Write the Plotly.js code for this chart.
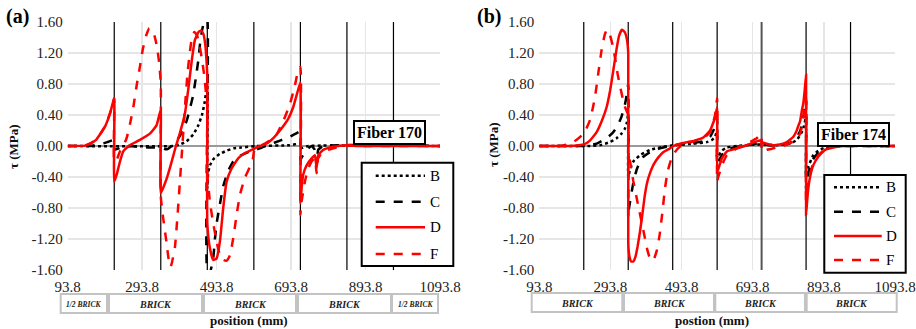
<!DOCTYPE html>
<html><head><meta charset="utf-8">
<script src="https://cdn.plot.ly/plotly-3.0.1.min.js"></script>
<style>html,body{margin:0;padding:0;background:#fff}#chart{width:916px;height:329px}</style>
</head><body><div id="chart"></div>
<script>
// ---------- DATA ----------
const xTicks = [93.8, 293.8, 493.8, 693.8, 893.8, 1093.8];
const xTickText = ["93.8", "293.8", "493.8", "693.8", "893.8", "1093.8"];
const yTicks = [-1.6, -1.2, -0.8, -0.4, 0, 0.4, 0.8, 1.2, 1.6];
const joints = [218.8, 343.8, 468.8, 593.8, 718.8, 843.8, 968.8];
const seriesNames = ["B", "C", "D", "F"];

// Panel (a) Fiber 170 : [position mm, tau MPa]
const a_B = [[93.8,0],[380,0],[395,0.02],[413,0.06],[431,0.15],[445,0.27],[455,0.41],[462,0.57],[466,0.72],[468.8,0.85],[468.8,-0.55],[471,-0.35],[476,-0.25],[485,-0.17],[503,-0.1],[521,-0.06],[540,-0.03],[560,-0.02],[600,0],[690,0.01],[718.8,0.03],[718.8,-0.03],[740,0],[1093.8,0]];
const a_C = [[93.8,0],[153.7,0],[180,0.02],[200,0.05],[218.8,0.08],[218.8,-0.05],[226,-0.04],[240,-0.01],[260,0],[290,-0.01],[320,-0.02],[343.8,-0.02],[355,-0.04],[362,-0.04],[370,-0.01],[377,0.03],[391,0.1],[403,0.2],[413,0.32],[422,0.48],[431,0.66],[438,0.88],[445,1.12],[450,1.35],[455,1.5],[460,1.6],[465,1.63],[468.8,1.63],[468.8,-1.63],[475.8,-1.63],[484.7,-1.45],[489.2,-1.2],[493.8,-1.0],[502.7,-0.75],[511.5,-0.52],[524.9,-0.32],[538.4,-0.2],[556,-0.13],[583,-0.07],[610,-0.03],[637,0.02],[664,0.07],[691,0.12],[710,0.17],[718.8,0.19],[718.8,-0.18],[722,-0.15],[731,-0.08],[740,-0.03],[749,0],[757.7,-0.05],[762.3,-0.25],[766.6,-0.05],[780,0],[1093.8,0]];
const a_D = [[93.8,0],[140,0.005],[153.7,0.03],[170,0.08],[180.5,0.15],[195,0.26],[207.4,0.42],[213,0.52],[218.8,0.62],[218.8,-0.46],[225.3,-0.37],[234.2,-0.2],[243.1,-0.07],[261,0.01],[287.9,0.08],[314.7,0.16],[332.7,0.27],[339.7,0.4],[343.8,0.46],[343.8,-0.61],[359.6,-0.42],[372,-0.22],[384.5,0],[395.3,0.17],[408.7,0.42],[418.1,0.75],[427.5,1.12],[435.6,1.37],[445,1.47],[452,1.49],[458,1.45],[463,1.32],[466,1.15],[468.8,0.9],[468.8,-1.0],[475.8,-1.32],[484.7,-1.47],[493.8,-1.45],[502.7,-1.23],[511.5,-0.8],[520.6,-0.46],[534,-0.29],[551.8,-0.16],[569.8,-0.09],[587.8,-0.05],[609.8,0],[623.5,0.02],[641.5,0.08],[663.8,0.2],[686,0.35],[699.4,0.5],[710,0.68],[718.8,0.82],[718.8,-0.74],[722,-0.55],[726.3,-0.37],[735.5,-0.25],[749,-0.16],[757.7,-0.12],[762.3,-0.28],[766.6,-0.12],[780,-0.05],[806.8,-0.01],[842.8,0.01],[878.5,0],[1093.8,0]];
const a_F = [[93.8,0],[140,0.005],[153.7,0.03],[170,0.08],[180.5,0.15],[195,0.26],[207.4,0.42],[213,0.52],[218.8,0.62],[218.8,-0.2],[225.3,-0.18],[234,-0.07],[243.1,0],[252,0.1],[261,0.28],[270,0.5],[279,0.78],[288,1.03],[296,1.26],[305,1.43],[313,1.52],[320,1.5],[327,1.42],[334,1.27],[340,1.05],[343.8,0.8],[343.8,-0.65],[350,-0.92],[359.6,-1.26],[366,-1.5],[370.3,-1.56],[374,-1.5],[381.9,-1.3],[388,-0.95],[395.3,-0.45],[401.5,-0.02],[408.7,0.5],[415,0.9],[421,1.18],[427,1.38],[434,1.47],[441,1.43],[448,1.3],[454,1.13],[460,0.93],[465,0.7],[468.8,0.55],[468.8,-0.35],[475.8,-0.72],[484.7,-1.0],[493.8,-1.23],[502.7,-1.41],[511.5,-1.47],[520.6,-1.48],[529.5,-1.41],[538.4,-1.19],[547.5,-0.89],[556.4,-0.63],[569.8,-0.41],[583.2,-0.27],[591,-0.17],[593.8,-0.08],[596.4,-0.05],[609.8,0],[623.5,0.03],[636.9,0.07],[654.9,0.15],[672.6,0.32],[690.6,0.54],[704,0.78],[712.9,0.98],[718.8,1.02],[718.8,-0.89],[722,-0.72],[730.9,-0.46],[739.8,-0.29],[748.9,-0.2],[757.7,-0.16],[762.3,-0.35],[766.6,-0.16],[780,-0.07],[806.8,-0.03],[842.8,0.01],[878.5,0],[1093.8,0]];

// Panel (b) Fiber 174
const b_B = [[93.8,0],[230,0],[264,0.01],[292,0.05],[311,0.1],[325,0.16],[334,0.22],[340,0.3],[343.8,0.42],[343.8,-0.4],[349,-0.3],[358,-0.2],[377,-0.12],[405,-0.05],[442,-0.01],[470,0.01],[527,0.03],[565,0.05],[580,0.08],[588,0.12],[593.8,0.2],[593.8,-0.15],[607,-0.06],[621,-0.02],[649,0],[705,0.02],[718.8,0.02],[760,0.01],[799,0.03],[818,0.08],[832,0.18],[838,0.26],[843.8,0.38],[843.8,-0.38],[850,-0.27],[864,-0.12],[878,-0.06],[897,-0.02],[920,0],[1093.8,0]];
const b_C = [[93.8,0],[200,0],[236,0.01],[255,0.03],[283,0.1],[300,0.17],[314,0.26],[325,0.38],[333,0.5],[338,0.62],[343.8,0.8],[343.8,-0.92],[346,-0.8],[349,-0.72],[354,-0.58],[360,-0.43],[368,-0.3],[377,-0.2],[386,-0.14],[405,-0.08],[433,-0.03],[461,0],[490,0.02],[527,0.04],[555,0.06],[574,0.12],[588,0.25],[593.8,0.36],[593.8,-0.25],[600,-0.18],[607,-0.12],[621,-0.05],[649,-0.01],[677,0.01],[705,0.03],[718.8,0.03],[740,0.01],[770,0.01],[798.8,0.04],[817.6,0.12],[827,0.19],[832,0.28],[838,0.42],[843.8,0.62],[843.8,-0.57],[847,-0.45],[850,-0.37],[855,-0.27],[864,-0.17],[878,-0.09],[897,-0.04],[920,-0.01],[949,0],[1093.8,0]];
const b_D = [[93.8,0],[180,0],[205,0.01],[219,0.02],[236,0.07],[255,0.18],[270,0.33],[283,0.5],[293,0.72],[302,0.98],[311,1.25],[318,1.42],[326,1.5],[334,1.47],[340,1.38],[343.8,1.2],[343.8,-1.25],[347,-1.42],[352,-1.49],[358,-1.49],[364,-1.43],[370,-1.3],[377,-1.1],[383,-0.9],[390,-0.65],[397,-0.47],[405,-0.35],[415,-0.24],[428,-0.15],[442,-0.08],[458,-0.04],[470.6,0],[490,0.03],[510,0.05],[530,0.07],[555,0.11],[574,0.2],[588,0.37],[593.8,0.5],[593.8,-0.33],[597,-0.3],[607,-0.16],[621,-0.07],[649,-0.03],[677,0.01],[705,0.06],[714,0.07],[718.8,0.05],[733,0.03],[752,0.01],[770,0.02],[789.5,0.05],[808,0.12],[817.6,0.2],[822,0.26],[827,0.32],[831.7,0.45],[836,0.55],[840,0.72],[843.8,0.92],[843.8,-0.89],[847,-0.7],[850,-0.55],[855,-0.4],[864,-0.25],[878,-0.14],[897,-0.05],[920,-0.02],[949,0],[1093.8,0]];
const b_F = [[93.8,0],[150,0],[180,0.03],[199,0.08],[220,0.17],[236,0.33],[250,0.62],[260,0.95],[269,1.24],[278,1.44],[284,1.5],[292,1.44],[300,1.3],[307,1.13],[314,0.93],[321,0.77],[328,0.62],[335,0.5],[343.8,0.4],[343.8,-0.1],[349,-0.2],[358,-0.45],[372,-0.77],[386,-1.08],[397,-1.33],[404,-1.44],[410,-1.48],[416,-1.46],[424,-1.35],[432,-1.15],[440,-0.85],[447,-0.55],[455,-0.32],[464,-0.18],[475,-0.08],[489,-0.01],[508,0.03],[527,0.06],[555,0.1],[574,0.18],[588,0.4],[593.8,0.62],[593.8,-0.46],[597,-0.4],[607,-0.25],[621,-0.12],[649,-0.03],[677,0.03],[705,0.1],[714,0.14],[718.8,0.15],[718.8,-0.07],[724,-0.07],[733,-0.05],[752,-0.03],[780,0],[808,0.06],[827,0.16],[836,0.35],[843.8,0.7],[843.8,-0.7],[850,-0.45],[864,-0.22],[878,-0.12],[897,-0.04],[920,-0.01],[949,0],[1093.8,0]];

const brickLabelsA = ["1/2 BRICK", "BRICK", "BRICK", "BRICK", "1/2 BRICK"];
const brickLabelsB = ["BRICK", "BRICK", "BRICK", "BRICK"];

// ---------- LAYOUT HELPERS (pixel geometry) ----------
const W = 916, H = 329, MT = 22, MB = 59, PH = H - MT - MB;
const px = v => v / W;
const py = v => (H - MB - v) / PH;

const styles = {
  B: {color: '#000000', dash: 'dot', width: 2.5},
  C: {color: '#000000', dash: 'dash', width: 2.5},
  D: {color: '#ff0000', dash: 'solid', width: 2.5},
  F: {color: '#ff0000', dash: 'dash', width: 2.5}
};

function mk(data, name, xa, ya) {
  return {
    type: 'scatter', mode: 'lines', name: name, showlegend: false,
    x: data.map(p => p[0]), y: data.map(p => p[1]),
    xaxis: xa, yaxis: ya,
    line: Object.assign({shape: 'spline', smoothing: 0.4}, styles[name]),
    hoverinfo: 'skip'
  };
}
const setA = {B: a_B, C: a_C, D: a_D, F: a_F};
const setB = {B: b_B, C: b_C, D: b_D, F: b_F};
const traces = [];
seriesNames.forEach(n => traces.push(mk(setA[n], n, 'x', 'y')));
seriesNames.forEach(n => traces.push(mk(setB[n], n, 'x2', 'y2')));

const fontFam = 'Liberation Serif, Times New Roman, serif';
const xCommon = {
  range: [93.8, 1093.8], tickmode: 'array', tickvals: xTicks, ticktext: xTickText,
  showgrid: true, gridcolor: '#e6e6e6', gridwidth: 1.5, zeroline: false, showline: false,
  ticks: '', tickfont: {family: fontFam, size: 15, color: '#222'}, ticklabelstandoff: 6, fixedrange: true
};
const yCommon = {
  range: [-1.6, 1.6], tickmode: 'array', tickvals: yTicks, ticktext: yTicks.map(v => v.toFixed(2)),
  showgrid: true, gridcolor: '#e6e6e6', gridwidth: 1.5, zeroline: true, zerolinecolor: '#9a9a9a',
  zerolinewidth: 2, showline: false, ticks: '', tickfont: {family: fontFam, size: 15, color: '#222'},
  ticklabelstandoff: 4, domain: [0, 1], fixedrange: true
};

const shapes = [];
joints.forEach(j => {
  shapes.push({type: 'line', xref: 'x', yref: 'y', x0: j, x1: j, y0: -1.6, y1: 1.6, line: {color: '#000', width: 1.2}, layer: 'between'});
  shapes.push({type: 'line', xref: 'x2', yref: 'y2', x0: j, x1: j, y0: -1.6, y1: 1.6, line: {color: j === 718.8 ? '#555' : '#000', width: j === 718.8 ? 2 : 1.2}, layer: 'between'});
});

const annotations = [];
// brick boxes under axes (pixel geometry)
const boxesA = [[60.7,107],[109,202],[204,296],[298,391],[392,438]];
const boxesB = [[531.7,622.3],[624,714],[715.3,805],[806.7,896.7]];
function addBoxes(boxes, labels, top, bot) {
  boxes.forEach((b, i) => {
    shapes.push({type: 'rect', xref: 'paper', yref: 'paper', x0: px(b[0]), x1: px(b[1]), y0: py(bot), y1: py(top), line: {color: '#c3c3c3', width: 2}, fillcolor: 'rgba(0,0,0,0)'});
    const half = labels[i].indexOf('1/2') === 0;
    annotations.push({xref: 'paper', yref: 'paper', x: px((b[0] + b[1]) / 2), y: py((top + bot) / 2 + 0.5), xanchor: 'center', yanchor: 'middle', showarrow: false,
      text: '<b><i>' + labels[i] + '</i></b>', font: {family: fontFam, size: half ? 7.5 : 10, color: '#222'}});
  });
}
addBoxes(boxesA, brickLabelsA, 294, 313);
addBoxes(boxesB, brickLabelsB, 293, 312);

function txt(t, x, y, size, extra) {
  annotations.push(Object.assign({xref: 'paper', yref: 'paper', x: px(x), y: py(y), xanchor: 'center', yanchor: 'middle', showarrow: false,
    text: t, font: {family: fontFam, size: size, color: '#111'}}, extra || {}));
}
txt('<b>position (mm)</b>', 249, 320.5, 13);
txt('<b>postion (mm)</b>', 712, 320, 13);
txt('<b>τ (MPa)</b>', 13, 147, 13, {textangle: -90});
txt('<b>τ (MPa)</b>', 493, 145, 13, {textangle: -90});
txt('<b>(a)</b>', 17.5, 17, 20, {font: {family: fontFam, size: 20, color: '#000'}});
txt('<b>(b)</b>', 489, 17, 20, {font: {family: fontFam, size: 20, color: '#000'}});

annotations.push({xref: 'x', yref: 'y', x: 957, y: 0.168, showarrow: false, text: '<b>Fiber 170</b>', font: {family: fontFam, size: 16, color: '#000'},
  bordercolor: '#000', borderwidth: 2, borderpad: 2, bgcolor: '#fff', xanchor: 'center', yanchor: 'middle'});
annotations.push({xref: 'x2', yref: 'y2', x: 978, y: 0.146, showarrow: false, text: '<b>Fiber 174</b>', font: {family: fontFam, size: 16, color: '#000'},
  bordercolor: '#000', borderwidth: 2, borderpad: 2, bgcolor: '#fff', xanchor: 'center', yanchor: 'middle'});

// legend boxes (drawn as layout items, pixel geometry)
function addLegend(box, rows, lineX0, lineX1, textX) {
  shapes.push({type: 'rect', xref: 'paper', yref: 'paper', x0: px(box[0]), x1: px(box[1]), y0: py(box[3]), y1: py(box[2]),
    line: {color: '#000', width: 2}, fillcolor: '#fff', layer: 'above'});
  seriesNames.forEach((n, i) => {
    shapes.push({type: 'line', xref: 'paper', yref: 'paper', x0: px(lineX0), x1: px(lineX1), y0: py(rows[i]), y1: py(rows[i]),
      line: {color: styles[n].color, dash: styles[n].dash, width: styles[n].width}, layer: 'above'});
    annotations.push({xref: 'paper', yref: 'paper', x: px(textX), y: py(rows[i]), xanchor: 'left', yanchor: 'middle', showarrow: false,
      text: n, font: {family: fontFam, size: 15, color: '#000'}});
  });
}
addLegend([361.7, 453.3, 162.7, 266], [175.7, 201.7, 227.3, 254], 375.7, 425, 428);
addLegend([824.3, 905.7, 175, 272.7], [187.3, 211.7, 236, 260], 834, 881.7, 884);

const layout = {
  width: W, height: H, margin: {l: 0, r: 0, t: MT, b: MB, pad: 0},
  paper_bgcolor: '#fff', plot_bgcolor: '#fff',
  font: {family: fontFam, color: '#222'},
  xaxis: Object.assign({}, xCommon, {domain: [px(67.7), px(440)], anchor: 'y'}),
  yaxis: Object.assign({}, yCommon, {anchor: 'x'}),
  xaxis2: Object.assign({}, xCommon, {domain: [px(539.3), px(895)], anchor: 'y2'}),
  yaxis2: Object.assign({}, yCommon, {anchor: 'x2'}),
  showlegend: false,
  shapes: shapes, annotations: annotations
};

Plotly.newPlot('chart', traces, layout, {displayModeBar: false, staticPlot: true});
</script></body></html>
